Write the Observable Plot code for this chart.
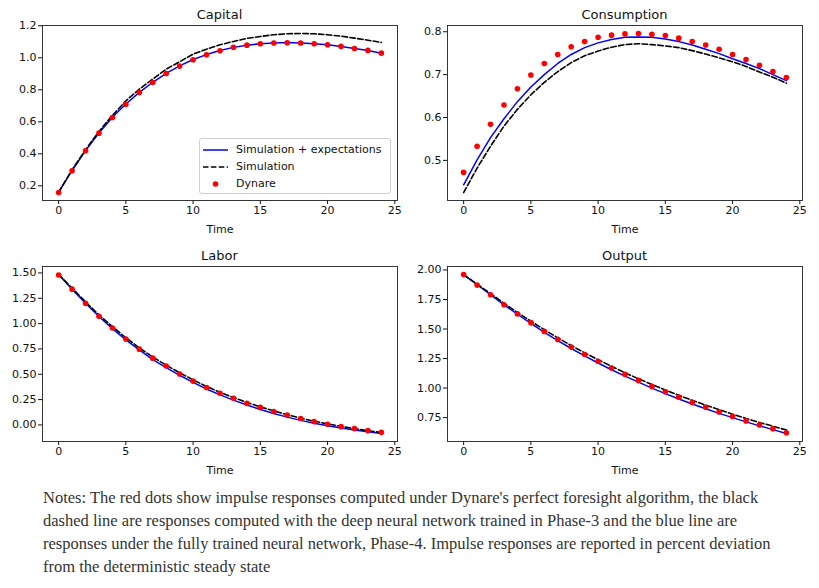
<!DOCTYPE html>
<html><head><meta charset="utf-8">
<script src="https://cdn.jsdelivr.net/npm/d3@7"></script>
<script src="https://cdn.jsdelivr.net/npm/@observablehq/plot@0.6"></script>
<style>
body{margin:0;background:#fff;width:819px;height:588px;overflow:hidden;position:relative;font-family:"DejaVu Sans",sans-serif;}
.panel{position:absolute;}
.ptitle{position:absolute;font-size:13px;color:#111;transform:translate(-50%,-50%);white-space:nowrap;}
.legend{position:absolute;left:199px;top:138px;width:190px;height:54px;border:1px solid #d0d0d0;border-radius:3px;background:rgba(255,255,255,0.85);font-size:11px;color:#111;}
.legend .row{position:absolute;left:0;height:14px;line-height:14px;}
.legend svg{position:absolute;left:2px;top:0;}
.legend span{position:absolute;left:36px;top:0;white-space:nowrap;}
.notes{position:absolute;left:43px;top:486px;font-family:"Liberation Serif","DejaVu Serif",serif;font-size:16.5px;line-height:23px;color:#333;white-space:nowrap;}
</style></head>
<body>
<div id="root"></div>
<script>
// ---- data ----
const time = [0,1,2,3,4,5,6,7,8,9,10,11,12,13,14,15,16,17,18,19,20,21,22,23,24];
const seriesNames = ["Simulation + expectations","Simulation","Dynare"];
const panelTitles = ["Capital","Consumption","Labor","Output"];

const capitalBlue  = [0.160,0.296,0.420,0.530,0.628,0.711,0.784,0.847,0.903,0.949,0.989,1.020,1.045,1.065,1.079,1.088,1.093,1.095,1.093,1.088,1.081,1.071,1.058,1.045,1.028];
const capitalBlack = [0.160,0.300,0.425,0.540,0.640,0.731,0.804,0.867,0.929,0.975,1.023,1.054,1.081,1.102,1.121,1.133,1.144,1.150,1.152,1.150,1.144,1.135,1.123,1.110,1.096];
const capitalRed   = [0.158,0.294,0.419,0.529,0.627,0.710,0.783,0.846,0.902,0.948,0.988,1.019,1.044,1.065,1.079,1.088,1.092,1.094,1.092,1.088,1.081,1.071,1.058,1.046,1.029];

const consBlue  = [0.443,0.501,0.553,0.597,0.637,0.671,0.700,0.726,0.747,0.763,0.774,0.782,0.787,0.788,0.787,0.783,0.777,0.769,0.759,0.749,0.737,0.726,0.714,0.700,0.686];
const consBlack = [0.425,0.482,0.533,0.580,0.619,0.653,0.682,0.707,0.728,0.744,0.755,0.764,0.770,0.772,0.770,0.767,0.763,0.756,0.748,0.739,0.730,0.719,0.706,0.694,0.680];
const consRed   = [0.472,0.533,0.584,0.629,0.667,0.699,0.726,0.747,0.765,0.777,0.787,0.792,0.795,0.796,0.794,0.791,0.785,0.777,0.769,0.759,0.747,0.735,0.722,0.707,0.693];

const laborBlue  = [1.485,1.340,1.200,1.070,0.950,0.840,0.740,0.645,0.565,0.490,0.420,0.355,0.297,0.245,0.196,0.153,0.113,0.077,0.045,0.017,-0.008,-0.030,-0.050,-0.068,-0.085];
const laborBlack = [1.485,1.350,1.215,1.085,0.970,0.860,0.760,0.670,0.590,0.515,0.445,0.380,0.322,0.270,0.222,0.178,0.138,0.100,0.067,0.037,0.010,-0.015,-0.037,-0.057,-0.075];
const laborRed   = [1.480,1.340,1.200,1.072,0.957,0.848,0.748,0.659,0.582,0.502,0.432,0.369,0.313,0.263,0.213,0.173,0.133,0.097,0.063,0.033,0.007,-0.017,-0.036,-0.056,-0.073];

const outputBlue  = [1.960,1.875,1.790,1.705,1.625,1.548,1.472,1.402,1.335,1.272,1.212,1.155,1.101,1.050,1.000,0.953,0.908,0.865,0.825,0.786,0.750,0.714,0.680,0.648,0.615];
const outputBlack = [1.960,1.880,1.800,1.718,1.640,1.566,1.494,1.425,1.360,1.298,1.240,1.184,1.130,1.079,1.030,0.984,0.939,0.896,0.856,0.817,0.779,0.743,0.709,0.677,0.645];
const outputRed   = [1.962,1.872,1.790,1.705,1.628,1.554,1.480,1.412,1.347,1.284,1.227,1.170,1.116,1.065,1.014,0.969,0.923,0.878,0.838,0.798,0.759,0.722,0.688,0.656,0.622];

const xTicks = [0,5,10,15,20,25];
const capitalTicks = [0.2,0.4,0.6,0.8,1.0,1.2];
const consTicks = [0.5,0.6,0.7,0.8];
const laborTicks = [0.00,0.25,0.50,0.75,1.00,1.25,1.50];
const outputTicks = [0.75,1.00,1.25,1.50,1.75,2.00];

// ---- build ----
const root = document.getElementById("root");
function rows(arr){ return time.map((t,i)=>({t, v:arr[i]})); }

function panel({title, blue, black, red, yTicks, yFmt, left, top}){
  const all = blue.concat(black, red);
  const lo = d3.min(all), hi = d3.max(all), pad = (hi-lo)*0.05;
  const fig = Plot.plot({
    width: 405, height: 220,
    marginLeft: 42, marginRight: 8, marginTop: 5, marginBottom: 40,
    style: {fontSize: "11px", fontFamily: "DejaVu Sans, sans-serif", color: "#111", background: "transparent", overflow: "visible"},
    x: {domain: [-1.2, 25.2], ticks: xTicks, tickSize: 4, tickPadding: 2, label: "Time", labelAnchor: "center", labelArrow: "none", labelOffset: 32},
    y: {domain: [lo-pad, hi+pad], ticks: yTicks, tickFormat: d3.format(yFmt), tickSize: 4, tickPadding: 2, label: null},
    marks: [
      Plot.line(rows(blue), {x:"t", y:"v", stroke:"#0000ff", strokeWidth:1.5}),
      Plot.line(rows(black), {x:"t", y:"v", stroke:"#000", strokeWidth:1.6, strokeDasharray:"5.5,2.4"}),
      Plot.dot(rows(red), {x:"t", y:"v", fill:"#ff0000", r:2.8}),
      Plot.frame({stroke:"#222", strokeWidth:0.9})
    ]
  });
  fig.classList.add("panel");
  fig.style.left = left + "px"; fig.style.top = top + "px";
  root.appendChild(fig);
  const tt = document.createElement("div");
  tt.className = "ptitle"; tt.textContent = title;
  tt.style.left = (left + 42 + 177.5) + "px"; tt.style.top = (top - 6) + "px";
  root.appendChild(tt);
}

panel({title: panelTitles[0], blue: capitalBlue, black: capitalBlack, red: capitalRed, yTicks: capitalTicks, yFmt: ".1f", left: 0, top: 20});
panel({title: panelTitles[1], blue: consBlue, black: consBlack, red: consRed, yTicks: consTicks, yFmt: ".1f", left: 405, top: 20});
panel({title: panelTitles[2], blue: laborBlue, black: laborBlack, red: laborRed, yTicks: laborTicks, yFmt: ".2f", left: 0, top: 261});
panel({title: panelTitles[3], blue: outputBlue, black: outputBlack, red: outputRed, yTicks: outputTicks, yFmt: ".2f", left: 405, top: 261});

// legend
const lg = document.createElement("div");
lg.className = "legend";
const sw = [
  '<svg width="28" height="14"><line x1="1" x2="26" y1="7" y2="7" stroke="#0000ff" stroke-width="1.5"/></svg>',
  '<svg width="28" height="14"><line x1="1" x2="26" y1="7" y2="7" stroke="#000" stroke-width="1.6" stroke-dasharray="5.5,2.4"/></svg>',
  '<svg width="28" height="14"><circle cx="13.5" cy="7" r="2.8" fill="#ff0000"/></svg>'
];
seriesNames.forEach((n,i)=>{
  const r = document.createElement("div");
  r.className = "row"; r.style.top = (4 + i*17) + "px";
  r.innerHTML = sw[i] + "<span></span>";
  r.querySelector("span").textContent = n;
  lg.appendChild(r);
});
root.appendChild(lg);

// notes
const noteLines = [
  "Notes: The red dots show impulse responses computed under Dynare's perfect foresight algorithm, the black",
  "dashed line are responses computed with the deep neural network trained in Phase-3 and the blue line are",
  "responses under the fully trained neural network, Phase-4. Impulse responses are reported in percent deviation",
  "from the deterministic steady state"
];
const nt = document.createElement("div");
nt.className = "notes";
noteLines.forEach((l,i)=>{ const d=document.createElement("div"); d.textContent=l; nt.appendChild(d); });
root.appendChild(nt);
</script>
</body></html>
